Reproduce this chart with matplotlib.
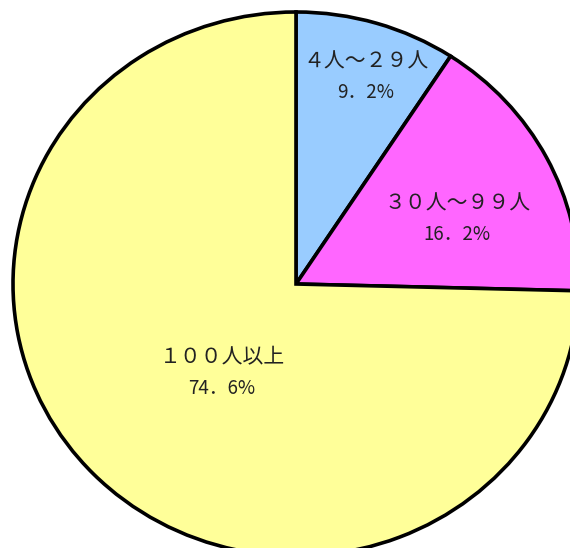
import matplotlib
matplotlib.use("Agg")
import matplotlib.pyplot as plt
import numpy as np

plt.rcParams['font.family'] = ['Noto Sans CJK JP', 'DejaVu Sans']

categorias = ["４人～２９人", "３０人～９９人", "１００人以上"]
porcentajes = [9.2, 16.2, 74.6]
colores = ["#99CCFF", "#FF66FF", "#FFFF99"]

# centro de cada etiqueta en coordenadas del pie (x, y)
pos_etiquetas = [(0.247, 0.761), (0.569, 0.239), (-0.261, -0.327)]

fig = plt.figure(figsize=(5.7, 5.48), dpi=100)
ax = fig.add_axes([0, 0, 1, 1])

cunas, _ = ax.pie(porcentajes, colors=colores, startangle=90, counterclock=False,
                  radius=1.0, center=(0, 0),
                  wedgeprops=dict(edgecolor="black", linewidth=2.6))

for nombre, valor, (x, y) in zip(categorias, porcentajes, pos_etiquetas):
    pct = ("%.1f" % valor).replace(".", "．") + "%"
    ax.annotate(nombre, xy=(x, y), xytext=(0, 11), textcoords="offset points",
                ha="center", va="center", fontsize=15, color="#222222")
    ax.annotate(pct, xy=(x, y), xytext=(0, -11), textcoords="offset points",
                ha="center", va="center", fontsize=13.5, color="#222222")

# el pie se ve un poco achatado en el original (283 px en x, 272 px en y)
ax.set_xlim(-296 / 283, (570 - 296) / 283)
ax.set_ylim(-(548 - 284) / 272, 284 / 272)
ax.set_aspect("auto")
ax.axis("off")

fig.savefig("out.png", dpi=100)
